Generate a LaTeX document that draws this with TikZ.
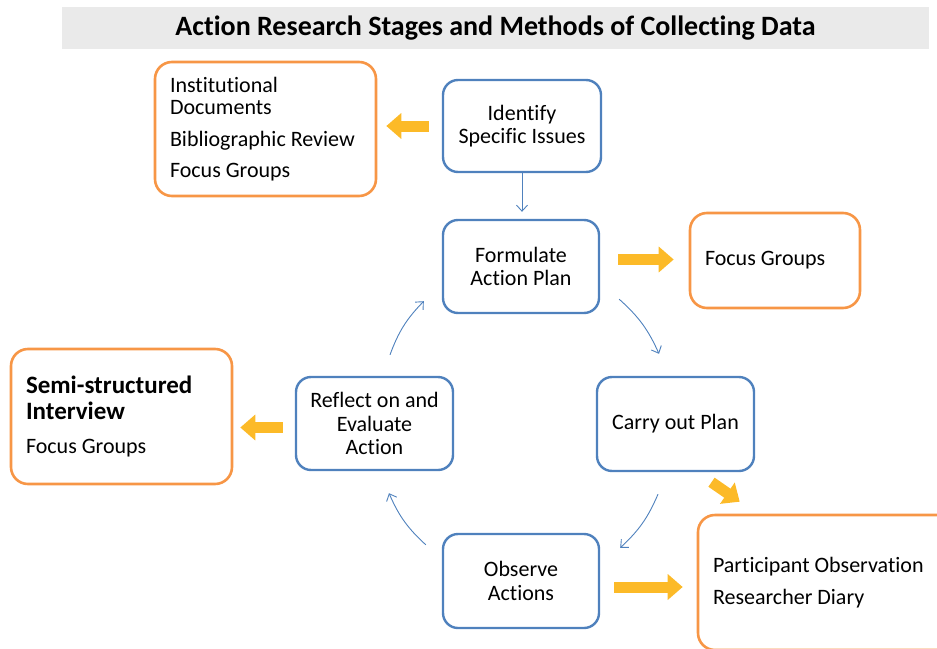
\documentclass[tikz,border=0pt]{standalone}
\usepackage{fontspec}
\setmainfont{Carlito}[Ligatures=CommonOff]
\usetikzlibrary{arrows.meta,calc}
\definecolor{stageblue}{RGB}{79,129,189}
\definecolor{methodorange}{RGB}{247,150,70}
\definecolor{flowyellow}{RGB}{252,186,40}
\definecolor{bandgray}{RGB}{234,234,234}
\newcommand\plainspacing{\spaceskip=0pt\xspaceskip=0pt\relax}
\begin{document}
\begin{tikzpicture}[x=1pt,y=-1pt,
 stagebox/.style={draw=stageblue, line width=2.4pt, rounded corners=15pt, align=center,
   font=\fontsize{22}{23.5}\selectfont, inner sep=0pt},
 methodbox/.style={draw=methodorange, line width=2.6pt, rounded corners=17pt, align=left,
   font=\fontsize{22}{22}\selectfont, inner xsep=15pt, inner ysep=0pt},
 cyclearrow/.style={draw=stageblue, line width=0.9pt, -{Straight Barb[length=6pt,width=11pt]}},
 blockarrow/.style={draw=flowyellow, line width=11pt, -{Triangle[length=15pt,width=25pt]}}
]
\useasboundingbox (0,0) rectangle (937,648);
\node[fill=bandgray, minimum width=867pt, minimum height=42pt, inner sep=0pt,
  font=\fontsize{28}{30}\selectfont\bfseries] (title) at (495.5,28)
  {Action Research Stages and Methods of Collecting Data};

% stages
\node[stagebox, minimum width=158pt, minimum height=92pt] (idn) at (522,126) {Identify\\Specific Issues};
\node[stagebox, minimum width=156pt, minimum height=93pt] (form) at (521,266.5) {Formulate\\Action Plan};
\node[stagebox, minimum width=157pt, minimum height=94pt] (carry) at (675.5,424) {Carry out Plan};
\node[stagebox, minimum width=156pt, minimum height=94pt] (obs) at (521,581) {Observe\\Actions};
\node[stagebox, minimum width=157pt, minimum height=93pt] (refl) at (374.5,423.5) {Reflect on and\\Evaluate\\Action};

% methods
\node[methodbox, minimum width=221pt, minimum height=134pt, text width=191pt] (tl) at (265.5,129)
  {\plainspacing Institutional\\Documents\\[10pt]Bibliographic~Review\\[9pt]Focus~Groups};
\node[methodbox, minimum width=170pt, minimum height=95pt, text width=140pt] (rb) at (775,260.5)
  {\plainspacing Focus~Groups};
\node[methodbox, minimum width=221pt, minimum height=135pt, text width=191pt] (lb) at (121.5,416.5)
  {\plainspacing\fontsize{25}{26}\selectfont\bfseries Semi-structured\\Interview\\[12pt]\fontsize{22}{22}\selectfont\mdseries Focus~Groups};
\node[methodbox, minimum width=267pt, minimum height=135pt, text width=237pt] (br) at (831.5,582.5)
  {\plainspacing Participant~Observation\\[10pt]Researcher~Diary};

% cycle connectors
\draw[cyclearrow] (idn.south) -- ($(form.north)+(1,-7)$);
\draw[cyclearrow] ($(form.south east)+(19,-15)$) to[bend left=12] ($(carry.north)+(-16.5,-22)$);
\draw[cyclearrow] ($(carry.south)+(-17.5,22)$) to[bend left=12] ($(obs.north east)+(20,15)$);
\draw[cyclearrow] ($(obs.north west)+(-16,12)$) to[bend left=12] ($(refl.south)+(14.5,22)$);
\draw[cyclearrow] ($(refl.north)+(15.5,-21)$) to[bend left=12] ($(form.south west)+(-18,-13)$);

% method arrows
\draw[blockarrow] ($(idn.west)+(-13,0)$) -- ($(tl.east |- idn.west)+(9,0)$);
\draw[blockarrow] ($(form.east |- rb.west)+(18,-1)$) -- ($(rb.west)+(-15,-1)$);
\draw[blockarrow] ($(refl.west)+(-12,4)$) -- ($(lb.east |- refl.west)+(7,4)$);
\draw[blockarrow] ($(carry.south)+(36,10)$) -- ($(br.north west)+(43,-12)$);
\draw[blockarrow] ($(obs.east)+(14,6)$) -- ($(br.west |- obs.east)+(-14,6)$);
\end{tikzpicture}
\end{document}
